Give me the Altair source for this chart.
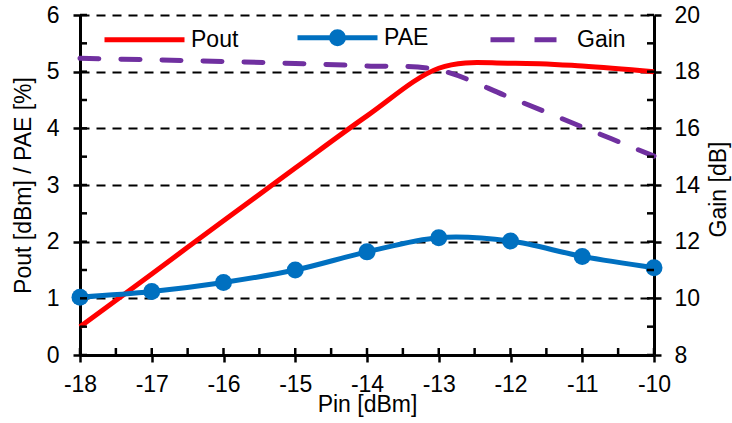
import altair as alt
import pandas as pd

# Measured sweep: input power vs. output power, PAE and gain
pin = [-18, -17, -16, -15, -14, -13, -12, -11, -10]
pout = [0.50, 1.43, 2.37, 3.30, 4.22, 5.06, 5.15, 5.10, 5.00]
pae = [1.02, 1.12, 1.28, 1.50, 1.82, 2.07, 2.01, 1.74, 1.54]
gain = [18.47, 18.42, 18.36, 18.29, 18.20, 18.06, 17.08, 16.05, 15.02]

series_names = ["Pout", "PAE", "Gain"]
series_colors = ["#FF0000", "#0070C0", "#7030A0"]
# legend glyphs: plain line, line with a dot, two dashes
series_glyphs = [
    "M-1,0L1,0",
    "M-1,0L1,0M0.15,0A0.15,0.15,0,1,1,-0.15,0A0.15,0.15,0,1,1,0.15,0Z",
    "M-1,0L-0.4,0M0.1,0L0.65,0",
]

x_ticks = [-18, -17, -16, -15, -14, -13, -12, -11, -10]
x_minor = [-18, -17.5, -17, -16.5, -16, -15.5, -15, -14.5, -14,
           -13.5, -13, -12.5, -12, -11.5, -11, -10.5, -10]
left_ticks = [0, 1, 2, 3, 4, 5, 6]
left_minor = [0, 0.5, 1, 1.5, 2, 2.5, 3, 3.5, 4, 4.5, 5, 5.5, 6]
right_ticks = [8, 10, 12, 14, 16, 18, 20]
right_minor = [8, 9, 10, 11, 12, 13, 14, 15, 16, 17, 18, 19, 20]

FONT = "Liberation Sans"
FS = 23
W, H = 574, 340

main = pd.DataFrame({"Pin": pin, "pout": pout, "pae": pae, "gain": gain})

axis_common = dict(
    domainColor="black", domainWidth=3,
    tickColor="black", tickWidth=2.5, tickSize=7,
    labelFont=FONT, labelFontSize=FS, labelColor="black",
    titleFont=FONT, titleFontSize=FS, titleFontWeight="normal", titleColor="black",
)

x_enc = alt.X(
    "Pin:Q",
    scale=alt.Scale(domain=[-18, -10], nice=False),
    axis=alt.Axis(
        values=x_ticks, title="Pin [dBm]", grid=False,
        labelExpr="'' + datum.value", labelFlush=False,
        labelBaseline="alphabetic", labelPadding=29,
        titleBaseline="alphabetic", titleY=56,
        **axis_common,
    ),
)

y_left = alt.Y(
    "val:Q",
    scale=alt.Scale(domain=[0, 6], nice=False),
    axis=alt.Axis(
        values=left_ticks, title="Pout [dBm] / PAE [%]",
        grid=True, gridColor="black", gridDash=[9, 7], gridWidth=2.2,
        labelPadding=14, labelExpr="'' + datum.value",
        titleAngle=270, titleBaseline="alphabetic", titleAlign="center",
        titleX=-50, titleY=170,
        **axis_common,
    ),
)

y_right = alt.Y(
    "val:Q",
    scale=alt.Scale(domain=[8, 20], nice=False),
    axis=alt.Axis(
        orient="right", values=right_ticks, title="Gain [dB]", grid=False,
        labelPadding=13, labelExpr="'' + datum.value",
        titleAngle=270, titleBaseline="alphabetic", titleAlign="center",
        titleX=71, titleY=174,
        **axis_common,
    ),
)

line_style = dict(strokeWidth=5, interpolate="cardinal")

pout_line = (
    alt.Chart(main).transform_calculate(val="datum.pout")
    .mark_line(color="#FF0000", **line_style)
    .encode(x=x_enc, y=y_left)
)
pae_line = (
    alt.Chart(main).transform_calculate(val="datum.pae")
    .mark_line(color="#0070C0", **line_style)
    .encode(x=x_enc, y=y_left)
)
pae_dots = (
    alt.Chart(main).transform_calculate(val="datum.pae")
    .mark_circle(color="#0070C0", size=289, opacity=1)
    .encode(x=x_enc, y=y_left)
)

# inward half-step tick marks along the axes
x_in = (
    alt.Chart(pd.DataFrame({"Pin": x_minor, "val": [0] * len(x_minor)}))
    .mark_tick(orient="vertical", size=7, thickness=2.5, color="black", yOffset=-3.5, opacity=1)
    .encode(x=x_enc, y=y_left)
)
yl_in = (
    alt.Chart(pd.DataFrame({"Pin": [-18] * len(left_minor), "val": left_minor}))
    .mark_tick(orient="horizontal", size=7, thickness=2.5, color="black", xOffset=3.5, opacity=1)
    .encode(x=x_enc, y=y_left)
)

legend_layer = (
    alt.Chart(pd.DataFrame({"series": series_names, "Pin": [-18] * 3, "val": [0] * 3}))
    .transform_filter("false")
    .mark_point(filled=True, size=6400, strokeWidth=5, opacity=1)
    .encode(
        x=x_enc, y=y_left,
        fill=alt.Fill("series:N", scale=alt.Scale(domain=series_names, range=series_colors), title=None),
        stroke=alt.Stroke("series:N", scale=alt.Scale(domain=series_names, range=series_colors), title=None),
        shape=alt.Shape("series:N", scale=alt.Scale(domain=series_names, range=series_glyphs), title=None),
    )
)

gain_line = (
    alt.Chart(main).transform_calculate(val="datum.gain")
    .mark_line(color="#7030A0", strokeWidth=5, strokeDash=[19, 22], strokeCap="round", interpolate="cardinal")
    .encode(x=x_enc, y=y_right)
)
yr_in = (
    alt.Chart(pd.DataFrame({"Pin": [-10] * len(right_minor), "val": right_minor}))
    .mark_tick(orient="horizontal", size=7, thickness=2.5, color="black", xOffset=-3.5, opacity=1)
    .encode(x=x_enc, y=y_right)
)

left_group = alt.layer(pout_line, pae_line, pae_dots, x_in, yl_in, legend_layer)
right_group = alt.layer(gain_line, yr_in)

chart = (
    alt.layer(left_group, right_group)
    .resolve_scale(y="independent")
    .properties(
        width=W, height=H,
        autosize=alt.AutoSizeParams(type="none"),
        padding={"left": 80, "top": 15, "right": 78, "bottom": 68},
        background="white",
    )
    .configure(font=FONT)
    .configure_view(stroke=None)
    .configure_legend(
        orient="none", legendX=22, legendY=-20, direction="horizontal", columns=3,
        symbolSize=6400, symbolStrokeWidth=5, symbolOpacity=1,
        labelFont=FONT, labelFontSize=FS, labelColor="black", labelOffset=4,
        columnPadding=47, gridAlign="all", padding=0, symbolType="circle",
    )
)

chart.save("out.html", embed_options={"renderer": "svg", "actions": False})
